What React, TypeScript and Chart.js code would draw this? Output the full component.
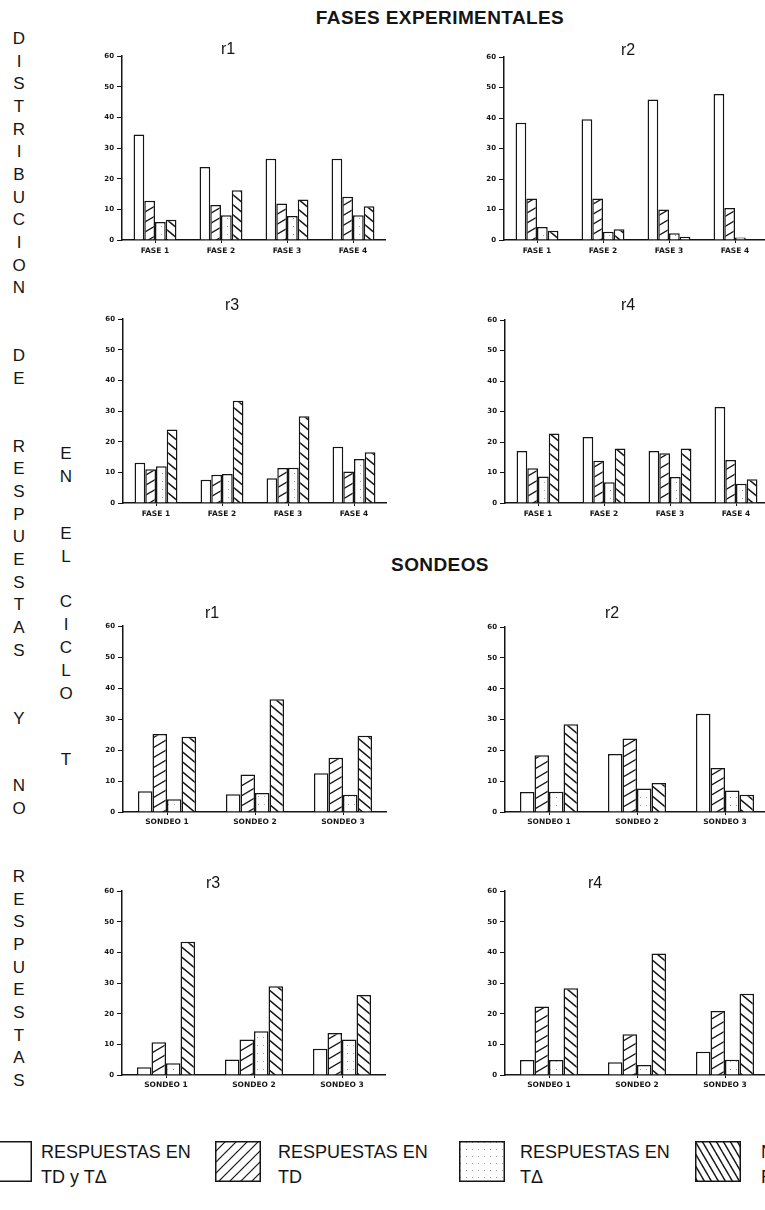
import React, { useEffect, useRef } from "react";
import { Chart, registerables } from "chart.js";

Chart.register(...registerables);

// ---- data ----------------------------------------------------------------
const FASES = ["FASE 1", "FASE 2", "FASE 3", "FASE 4"];
const SONDEOS = ["SONDEO 1", "SONDEO 2", "SONDEO 3"];
const Y_TICKS = [0, 10, 20, 30, 40, 50, 60];
const SERIES_LABELS = [
  "RESPUESTAS EN TD y T\u0394",
  "RESPUESTAS EN TD",
  "RESPUESTAS EN T\u0394",
  "NO RESPUESTAS",
];

// Fases experimentales
const faseR1TdTa = [34.4, 23.8, 26.5, 26.5];
const faseR1Td = [12.8, 11.4, 11.9, 14.1];
const faseR1Ta = [5.9, 8.1, 7.8, 8.1];
const faseR1No = [6.6, 16.2, 13.2, 11.0];

const faseR2TdTa = [38.5, 39.6, 46.1, 47.9];
const faseR2Td = [13.6, 13.6, 10.0, 10.5];
const faseR2Ta = [4.3, 2.7, 2.2, 0.8];
const faseR2No = [3.0, 3.5, 1.1, 0];

const faseR3TdTa = [13.1, 7.6, 8.1, 18.4];
const faseR3Td = [11.0, 9.2, 11.4, 10.3];
const faseR3Ta = [12.0, 9.5, 11.5, 14.4];
const faseR3No = [24.0, 33.4, 28.3, 16.6];

const faseR4TdTa = [17.1, 21.7, 17.1, 31.5];
const faseR4Td = [11.4, 13.9, 16.3, 14.1];
const faseR4Ta = [8.7, 6.8, 8.5, 6.3];
const faseR4No = [22.8, 17.9, 17.9, 7.8];

// Sondeos
const sondeoR1TdTa = [6.7, 5.7, 12.5];
const sondeoR1Td = [25.2, 12.1, 17.5];
const sondeoR1Ta = [4.1, 6.1, 5.6];
const sondeoR1No = [24.3, 36.4, 24.6];

const sondeoR2TdTa = [6.5, 18.8, 31.9];
const sondeoR2Td = [18.4, 23.9, 14.3];
const sondeoR2Ta = [6.6, 7.6, 7.0];
const sondeoR2No = [28.5, 9.4, 5.6];

const sondeoR3TdTa = [2.5, 5.1, 8.6];
const sondeoR3Td = [10.7, 11.6, 13.7];
const sondeoR3Ta = [3.8, 14.3, 11.6];
const sondeoR3No = [43.5, 29.0, 26.1];

const sondeoR4TdTa = [4.9, 4.2, 7.6];
const sondeoR4Td = [22.4, 13.3, 20.9];
const sondeoR4Ta = [4.9, 3.3, 5.0];
const sondeoR4No = [28.3, 39.7, 26.5];

// ---- panel layout --------------------------------------------------------
type Panel = {
  title: string;
  labels: string[];
  series: number[][];
  axisX: number; // x of the value axis
  yTop: number; // pixel of value 60
  yZero: number; // pixel of value 0
  titleX: number;
  titleY: number;
  catPct: number;
  labelPad: number;
};

const PANELS: Panel[] = [
  { title: "r1", labels: FASES, series: [faseR1TdTa, faseR1Td, faseR1Ta, faseR1No], axisX: 122, yTop: 55, yZero: 240, titleX: 228, titleY: 49, catPct: 0.65, labelPad: 4 },
  { title: "r2", labels: FASES, series: [faseR2TdTa, faseR2Td, faseR2Ta, faseR2No], axisX: 504, yTop: 56, yZero: 240, titleX: 628, titleY: 50, catPct: 0.65, labelPad: 4 },
  { title: "r3", labels: FASES, series: [faseR3TdTa, faseR3Td, faseR3Ta, faseR3No], axisX: 123, yTop: 318, yZero: 503, titleX: 232, titleY: 305, catPct: 0.65, labelPad: 4 },
  { title: "r4", labels: FASES, series: [faseR4TdTa, faseR4Td, faseR4Ta, faseR4No], axisX: 505, yTop: 319, yZero: 503, titleX: 628, titleY: 305, catPct: 0.65, labelPad: 4 },
  { title: "r1", labels: SONDEOS, series: [sondeoR1TdTa, sondeoR1Td, sondeoR1Ta, sondeoR1No], axisX: 123, yTop: 625, yZero: 812, titleX: 212, titleY: 613, catPct: 0.66, labelPad: 3 },
  { title: "r2", labels: SONDEOS, series: [sondeoR2TdTa, sondeoR2Td, sondeoR2Ta, sondeoR2No], axisX: 505, yTop: 626, yZero: 812, titleX: 612, titleY: 613, catPct: 0.66, labelPad: 3 },
  { title: "r3", labels: SONDEOS, series: [sondeoR3TdTa, sondeoR3Td, sondeoR3Ta, sondeoR3No], axisX: 122, yTop: 890, yZero: 1075, titleX: 213, titleY: 883, catPct: 0.66, labelPad: 3 },
  { title: "r4", labels: SONDEOS, series: [sondeoR4TdTa, sondeoR4Td, sondeoR4Ta, sondeoR4No], axisX: 505, yTop: 890, yZero: 1075, titleX: 595, titleY: 883, catPct: 0.66, labelPad: 3 },
];

const PLOT_W = 264;
const Y_AXIS_W = 40;
const X_AXIS_H = 22;
const PAD_TOP = 6;
const INK = "#151515";

// ---- fills ---------------------------------------------------------------
type FillKind = "plain" | "rising" | "dots" | "falling";

function makeFill(kind: FillKind, w: number, h: number, lw: number): CanvasPattern | string {
  if (kind === "plain") return "#ffffff";
  const c = document.createElement("canvas");
  c.width = w;
  c.height = h;
  const g = c.getContext("2d")!;
  g.fillStyle = "#ffffff";
  g.fillRect(0, 0, w, h);
  if (kind === "dots") {
    g.fillStyle = "#a0a0a0";
    g.fillRect(1, 1, 1, 1);
  } else {
    g.strokeStyle = INK;
    g.lineWidth = lw;
    const s = h / w;
    for (let k = -1; k <= 2; k++) {
      g.beginPath();
      if (kind === "rising") {
        g.moveTo(-2, 2 * s + k * h);
        g.lineTo(w + 2, -s * (w + 2) + k * h);
      } else {
        g.moveTo(-2, -2 * s + k * h);
        g.lineTo(w + 2, s * (w + 2) + k * h);
      }
      g.stroke();
    }
  }
  return g.createPattern(c, "repeat")!;
}

function barFills() {
  return [
    makeFill("plain", 1, 1, 1),
    makeFill("rising", 17, 10, 1.3),
    makeFill("dots", 6, 8, 1),
    makeFill("falling", 12, 10, 1.5),
  ];
}

function legendFills() {
  return [
    makeFill("plain", 1, 1, 1),
    makeFill("rising", 11, 11, 1.2),
    makeFill("dots", 6, 7, 1),
    makeFill("falling", 7, 12, 1.4),
  ];
}

// ---- one small bar chart -------------------------------------------------
function PanelChart({ p }: { p: Panel }) {
  const ref = useRef<HTMLCanvasElement | null>(null);
  const width = Y_AXIS_W + PLOT_W;
  const height = PAD_TOP + (p.yZero - p.yTop) + X_AXIS_H;

  useEffect(() => {
    if (!ref.current) return;
    const fills = barFills();
    const yFont = { family: "'DejaVu Sans', sans-serif", weight: "bold" as const, size: 7 };
    const xFont = { family: "'DejaVu Sans', sans-serif", weight: "bold" as const, size: 7.5 };
    const chart = new Chart(ref.current, {
      type: "bar",
      data: {
        labels: p.labels,
        datasets: p.series.map((vals, i) => ({
          label: SERIES_LABELS[i],
          data: vals,
          backgroundColor: fills[i] as any,
          borderColor: INK,
          borderWidth: 1.5,
          categoryPercentage: p.catPct,
          barPercentage: 1,
        })),
      },
      options: {
        responsive: false,
        animation: false,
        devicePixelRatio: 1,
        layout: { padding: { top: PAD_TOP, right: 0, left: 0, bottom: 0 } },
        plugins: {
          legend: { display: false },
          tooltip: { enabled: false },
          title: { display: false },
        },
        scales: {
          x: {
            grid: {
              display: true,
              drawOnChartArea: false,
              drawTicks: true,
              tickLength: 3,
              offset: false,
              color: INK,
              lineWidth: 1,
            },
            border: { display: true, color: INK, width: 1.5 },
            ticks: {
              color: INK,
              font: xFont,
              padding: p.labelPad,
              maxRotation: 0,
              autoSkip: false,
            },
            afterFit: (s: any) => {
              s.height = X_AXIS_H;
            },
          },
          y: {
            min: 0,
            max: 60,
            afterBuildTicks: (s: any) => {
              s.ticks = Y_TICKS.map((v) => ({ value: v }));
            },
            grid: {
              display: true,
              drawOnChartArea: false,
              drawTicks: true,
              tickLength: 5,
              color: INK,
              lineWidth: 1,
            },
            border: { display: true, color: INK, width: 1.5 },
            ticks: { color: INK, font: yFont, padding: 3 },
            afterFit: (s: any) => {
              s.width = Y_AXIS_W;
            },
          },
        },
      },
    });
    return () => chart.destroy();
  }, [p]);

  return (
    <>
      <canvas
        ref={ref}
        width={width}
        height={height}
        style={{
          position: "absolute",
          left: p.axisX - Y_AXIS_W,
          top: p.yTop - PAD_TOP,
          width,
          height,
        }}
      />
      <div
        style={{
          position: "absolute",
          left: p.titleX - 30,
          top: p.titleY - 10,
          width: 60,
          textAlign: "center",
          font: "16px 'Liberation Sans', Arial, sans-serif",
          lineHeight: "20px",
          color: INK,
        }}
      >
        {p.title}
      </div>
    </>
  );
}

// ---- legend swatch -------------------------------------------------------
function Swatch({ index, left, top, w, h }: { index: number; left: number; top: number; w: number; h: number }) {
  const ref = useRef<HTMLCanvasElement | null>(null);
  useEffect(() => {
    const c = ref.current;
    if (!c) return;
    const g = c.getContext("2d")!;
    const fill = legendFills()[index];
    g.clearRect(0, 0, w, h);
    g.fillStyle = fill as any;
    g.fillRect(0, 0, w, h);
    g.strokeStyle = INK;
    g.lineWidth = 1.5;
    g.strokeRect(0.75, 0.75, w - 1.5, h - 1.5);
  }, [index, w, h]);
  return (
    <canvas
      ref={ref}
      width={w}
      height={h}
      style={{ position: "absolute", left, top, width: w, height: h }}
    />
  );
}

// ---- stacked vertical captions -------------------------------------------
const SIDE_WORDS = ["DISTRIBUCION", "DE", "RESPUESTAS", "Y", "NO", "RESPUESTAS"];
const INNER_LETTERS: [string, number][] = [
  ["E", 455], ["N", 478],
  ["E", 535], ["L", 558],
  ["C", 603], ["I", 626], ["C", 649], ["L", 672], ["O", 695],
  ["T", 761],
];

function stackLetters(words: string[], start: number, step: number, gapSlots: number) {
  const out: [string, number][] = [];
  let slot = 0;
  words.forEach((w, wi) => {
    if (wi > 0) slot += gapSlots;
    for (const ch of w) {
      out.push([ch, start + slot * step]);
      slot += 1;
    }
    slot -= 1;
  });
  return out;
}

function Letters({ letters, x }: { letters: [string, number][]; x: number }) {
  return (
    <>
      {letters.map(([ch, y], i) => (
        <div
          key={i}
          style={{
            position: "absolute",
            left: x - 12,
            top: y - 11,
            width: 24,
            height: 22,
            lineHeight: "22px",
            textAlign: "center",
            font: "17px 'Liberation Sans', Arial, sans-serif",
            color: INK,
          }}
        >
          {ch}
        </div>
      ))}
    </>
  );
}

const LEGEND_ITEMS = [
  { box: -14, text: 41, l1: "RESPUESTAS EN", l2: "TD y T\u0394" },
  { box: 215, text: 278, l1: "RESPUESTAS EN", l2: "TD" },
  { box: 459, text: 520, l1: "RESPUESTAS EN", l2: "T\u0394" },
  { box: 695, text: 761, l1: "NO", l2: "RESPUESTAS" },
];

export default function App() {
  const header: React.CSSProperties = {
    position: "absolute",
    left: 240,
    width: 400,
    textAlign: "center",
    font: "bold 19px 'Liberation Sans', Arial, sans-serif",
    letterSpacing: "0.4px",
    color: INK,
  };
  return (
    <div
      style={{
        position: "absolute",
        left: 0,
        top: 0,
        width: 765,
        height: 1210,
        overflow: "hidden",
        background: "#ffffff",
      }}
    >
      <div style={{ ...header, top: 7 }}>FASES EXPERIMENTALES</div>
      <div style={{ ...header, top: 554 }}>SONDEOS</div>

      <Letters letters={stackLetters(SIDE_WORDS, 40, 22.65, 3)} x={19} />
      <Letters letters={INNER_LETTERS} x={66} />

      {PANELS.map((p, i) => (
        <PanelChart key={i} p={p} />
      ))}

      {LEGEND_ITEMS.map((it, i) => (
        <React.Fragment key={i}>
          <Swatch index={i} left={it.box} top={1141} w={46} h={41} />
          <div
            style={{
              position: "absolute",
              left: it.text,
              top: 1140,
              font: "18px 'Liberation Sans', Arial, sans-serif",
              lineHeight: "25px",
              color: INK,
              whiteSpace: "nowrap",
            }}
          >
            {it.l1}
            <br />
            {it.l2}
          </div>
        </React.Fragment>
      ))}
    </div>
  );
}
